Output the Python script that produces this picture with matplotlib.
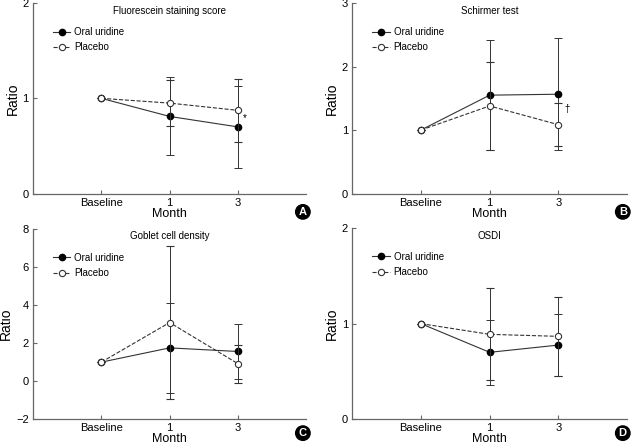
import matplotlib
matplotlib.use("Agg")
import matplotlib.pyplot as plt
from matplotlib.lines import Line2D

plt.rcParams['font.family'] = ['Liberation Sans Narrow', 'Liberation Sans', 'DejaVu Sans']

months = ['Baseline', '1', '3']

# Fluorescein staining score
fl_oral = [1.0, 0.81, 0.70]
fl_oral_err = [0, 0.41, 0.43]
fl_plac = [1.0, 0.95, 0.874]
fl_plac_err = [0, 0.24, 0.33]

# Schirmer test
sc_oral = [1.0, 1.55, 1.565]
sc_oral_err = [0, 0.87, 0.88]
sc_plac = [1.0, 1.38, 1.085]
sc_plac_err = [0, 0.70, 0.34]

# Goblet cell density
gc_oral = [1.0, 1.75, 1.56]
gc_oral_err = [0, 2.35, 1.44]
gc_plac = [1.0, 3.08, 0.92]
gc_plac_err = [0, 4.0, 1.0]

# OSDI
os_oral = [1.0, 0.70, 0.776]
os_oral_err = [0, 0.34, 0.32]
os_plac = [1.0, 0.888, 0.867]
os_plac_err = [0, 0.48, 0.415]

panels = [
    ('Fluorescein staining score', fl_oral, fl_oral_err, fl_plac, fl_plac_err,
     (0, 2), [0, 1, 2], 'A', ('*', 2.1, 0.79)),
    ('Schirmer test', sc_oral, sc_oral_err, sc_plac, sc_plac_err,
     (0, 3), [0, 1, 2, 3], 'B', ('\u2020', 2.12, 1.33)),
    ('Goblet cell density', gc_oral, gc_oral_err, gc_plac, gc_plac_err,
     (-2, 8), [-2, 0, 2, 4, 6, 8], 'C', None),
    ('OSDI', os_oral, os_oral_err, os_plac, os_plac_err,
     (0, 2), [0, 1, 2], 'D', None),
]

rects = [
    [0.0523, 0.567, 0.433, 0.426],
    [0.558, 0.567, 0.436, 0.426],
    [0.0523, 0.062, 0.433, 0.426],
    [0.558, 0.062, 0.436, 0.428],
]
letter_pos = [(0.480, 0.526), (0.987, 0.526), (0.480, 0.031), (0.987, 0.031)]

fig = plt.figure(figsize=(6.31, 4.47), dpi=100)
col = '#333333'
axcol = '#666666'
x = [0, 1, 2]

for (title, o, oe, p, pe, ylim, yt, letter, mark), r, lp in zip(panels, rects, letter_pos):
    ax = fig.add_axes(r)
    ax.errorbar(x, o, yerr=oe, color=col, lw=0.8, elinewidth=0.7, capsize=3,
                capthick=0.7, marker='o', ms=4.5, mfc='black', mec='black',
                zorder=2)
    ax.errorbar(x, p, yerr=pe, color=col, lw=0.8, ls='--', elinewidth=0.7,
                capsize=3, capthick=0.7, marker='o', ms=4.5, mfc='white',
                mec=col, mew=0.8, zorder=3)
    ax.set_xlim(-1, 3)
    ax.set_ylim(*ylim)
    ax.set_xticks(x)
    ax.set_xticklabels(months)
    ax.set_yticks(yt)
    for s in ['top', 'right']:
        ax.spines[s].set_visible(False)
    for s in ['left', 'bottom']:
        ax.spines[s].set_color(axcol)
        ax.spines[s].set_linewidth(0.9)
    ax.tick_params(direction='in', length=3, width=0.8, color=axcol,
                   labelsize=8, pad=3)
    ax.set_xlabel('Month', fontsize=9, labelpad=0)
    ax.set_ylabel('Ratio', fontsize=10, labelpad=2)
    ax.text(0.5, 0.96, title, transform=ax.transAxes, ha='center', va='center',
            fontsize=7)
    handles = [
        Line2D([], [], color=col, lw=0.8, marker='o', ms=4.5, mfc='black', mec='black'),
        Line2D([], [], color=col, lw=0.8, ls='--', marker='o', ms=4.5, mfc='white',
               mec=col, mew=0.8),
    ]
    ax.legend(handles, ['Oral uridine', 'Placebo'], loc='upper left',
              bbox_to_anchor=(0.073, 0.875), frameon=False, fontsize=7,
              handlelength=1.8, handletextpad=0.4, labelspacing=0.55,
              borderaxespad=0, borderpad=0)
    if mark:
        ax.text(mark[1], mark[2], mark[0], fontsize=7, ha='center', va='center')
    fig.text(lp[0], lp[1], letter, fontsize=8, fontweight='bold', color='white',
             ha='center', va='center',
             bbox=dict(boxstyle='circle,pad=0.2', fc='black', ec='black'))

fig.savefig('out.png', dpi=100)
